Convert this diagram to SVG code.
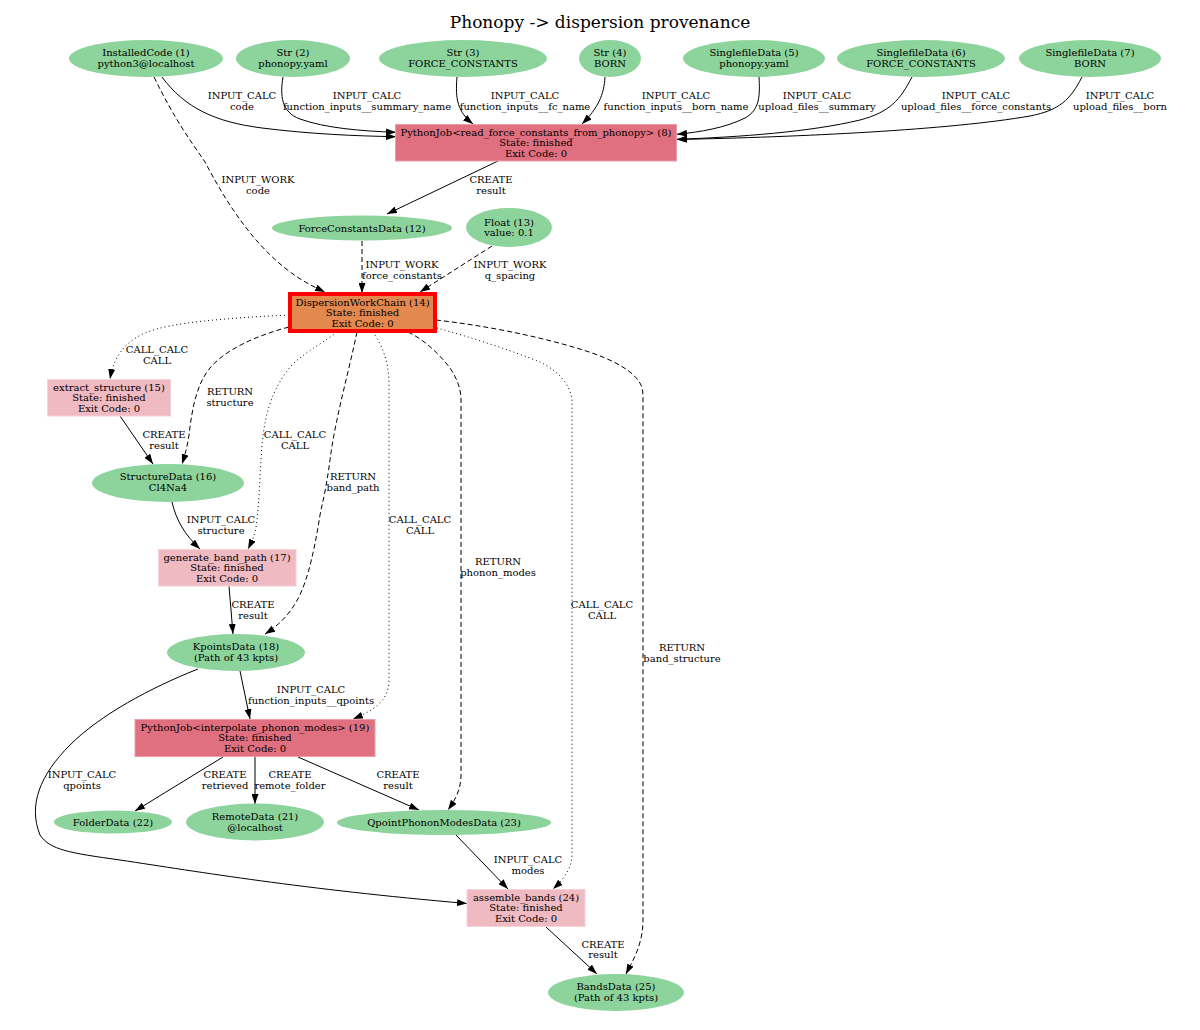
<svg xmlns="http://www.w3.org/2000/svg" width="1200" height="1030" viewBox="0 0 1200 1030">
<style>
text { font-family: "DejaVu Serif", "Liberation Serif", serif; font-size: 10px; fill: #000; text-anchor: middle; }
.title { font-size: 17px; }
.data { fill: #8cd49b; }
.calc { fill: #f0bac2; stroke: #f6d3d8; stroke-width: 1; }
.pyjob { fill: #e0707f; stroke: #ec9ea8; stroke-width: 1; }
.wc { fill: #e3884f; stroke: #ff0000; stroke-width: 4; }
.e { fill: none; stroke: #000; stroke-width: 1; marker-end: url(#arr); }
.dash { stroke-dasharray: 5,3; }
.dot { stroke-dasharray: 1,3; }
</style>
<defs>
<marker id="arr" markerUnits="userSpaceOnUse" markerWidth="10" markerHeight="7" refX="10" refY="3.5" orient="auto">
<path d="M0,0 L10,3.5 L0,7 z" fill="#000"/>
</marker>
</defs>
<rect width="1200" height="1030" fill="#fff"/>
<text class="title" x="600" y="28">Phonopy -&gt; dispersion provenance</text>

<g id="connectors">
<path class="e" d="M162,77 C185,108 215,122 262,128 C310,134 355,136 396,136.7"/>
<path class="e" d="M283,77 C280,95 281,112 300,119 C325,128 360,131 396,132.3"/>
<path class="e" d="M457,77 C455,100 458,112 473,124"/>
<path class="e" d="M605,77 C604,95 598,108 582,124"/>
<path class="e" d="M759,77 C760,95 760,110 745,118 C725,128 700,132 677,134.3"/>
<path class="e" d="M912,77 C900,100 890,112 860,120 C810,132 740,137 677,139.3"/>
<path class="e" d="M1082,77 C1070,100 1060,110 1030,116 C950,130 800,137 677,139.5"/>
<path class="e dash" d="M154,77 C175,120 190,140 205,162 C225,200 250,240 285,268 C300,280 312,286 325,292"/>
<path class="e" d="M498,161 L387,214"/>
<path class="e dash" d="M362,241 L362,293"/>
<path class="e dash" d="M492,246 L420,292"/>
<path class="e dot" d="M289,315 C230,318 170,322 145,333 C125,342 114,356 110,379"/>
<path class="e dash" d="M289,327 C255,336 225,350 210,368 C196,385 192,410 189,435 C187,448 185,455 182,464"/>
<path class="e" d="M120,416 L153,464"/>
<path class="e dot" d="M337,332 C320,345 305,352 292,365 C270,390 263,420 261,460 C259,495 258,520 255,532 C253,540 250,545 248,549"/>
<path class="e" d="M172,502 C176,520 185,535 200,549"/>
<path class="e dash" d="M357,332 C348,375 335,420 330,460 C326,490 323,500 320,515 C313,560 305,590 293,607 C285,619 276,627 265,634"/>
<path class="e" d="M229,586 L233,634"/>
<path class="e dot" d="M373,332 C382,345 388,360 389,380 L389,680 C389,700 375,710 353,719"/>
<path class="e" d="M240,671 L250,719"/>
<path class="e dash" d="M408,332 C425,340 440,355 450,368 C458,380 461,390 461,400 L461,775 C461,790 455,800 448,810"/>
<path class="e dot" d="M437,328 C470,337 510,350 540,362 C560,372 570,385 572,400 L572,855 C572,868 563,880 553,889"/>
<path class="e dash" d="M436,320 C480,325 535,335 583,350 C615,360 635,372 641,385 C643,390 643,395 643,400 L643,920 C643,945 632,962 626,974"/>
<path class="e" d="M198,669 C150,688 100,715 70,745 C40,775 28,805 40,835 C50,850 70,853 120,860 C200,872 300,889 467,903.5"/>
<path class="e" d="M223,757 L135,811"/>
<path class="e" d="M255,757 L255,804"/>
<path class="e" d="M298,757 L419,810"/>
<path class="e" d="M456,835 L508,889"/>
<path class="e" d="M546,927 L597,974"/>

<text x="242" y="98.5">INPUT_CALC</text><text x="242" y="109.5">code</text>
<text x="367" y="98.5">INPUT_CALC</text><text x="367" y="109.5">function_inputs__summary_name</text>
<text x="525" y="98.5">INPUT_CALC</text><text x="525" y="109.5">function_inputs__fc_name</text>
<text x="676" y="98.5">INPUT_CALC</text><text x="676" y="109.5">function_inputs__born_name</text>
<text x="817" y="98.5">INPUT_CALC</text><text x="817" y="109.5">upload_files__summary</text>
<text x="976" y="98.5">INPUT_CALC</text><text x="976" y="109.5">upload_files__force_constants</text>
<text x="1120" y="98.5">INPUT_CALC</text><text x="1120" y="109.5">upload_files__born</text>
<text x="258" y="182.5">INPUT_WORK</text><text x="258" y="193.5">code</text>
<text x="491" y="182.5">CREATE</text><text x="491" y="193.5">result</text>
<text x="402" y="267.5">INPUT_WORK</text><text x="402" y="278.5">force_constants</text>
<text x="510" y="267.5">INPUT_WORK</text><text x="510" y="278.5">q_spacing</text>
<text x="157" y="352.5">CALL_CALC</text><text x="157" y="363.5">CALL</text>
<text x="230" y="394.5">RETURN</text><text x="230" y="405.5">structure</text>
<text x="164" y="437.5">CREATE</text><text x="164" y="448.5">result</text>
<text x="295" y="437.5">CALL_CALC</text><text x="295" y="448.5">CALL</text>
<text x="353" y="479.5">RETURN</text><text x="353" y="490.5">band_path</text>
<text x="221" y="522.5">INPUT_CALC</text><text x="221" y="533.5">structure</text>
<text x="420" y="522.5">CALL_CALC</text><text x="420" y="533.5">CALL</text>
<text x="498" y="565">RETURN</text><text x="498" y="576">phonon_modes</text>
<text x="253" y="607.5">CREATE</text><text x="253" y="618.5">result</text>
<text x="602" y="607.5">CALL_CALC</text><text x="602" y="618.5">CALL</text>
<text x="682" y="650.5">RETURN</text><text x="682" y="661.5">band_structure</text>
<text x="311" y="692.5">INPUT_CALC</text><text x="311" y="703.5">function_inputs__qpoints</text>
<text x="82" y="777.5">INPUT_CALC</text><text x="82" y="788.5">qpoints</text>
<text x="225" y="777.5">CREATE</text><text x="225" y="788.5">retrieved</text>
<text x="290" y="777.5">CREATE</text><text x="290" y="788.5">remote_folder</text>
<text x="398" y="777.5">CREATE</text><text x="398" y="788.5">result</text>
<text x="528" y="862.5">INPUT_CALC</text><text x="528" y="873.5">modes</text>
<text x="603" y="947.5">CREATE</text><text x="603" y="958">result</text>
</g>

<g id="n1"><ellipse class="data" cx="146" cy="58.5" rx="77" ry="18.5"/><text x="146" y="56">InstalledCode (1)</text><text x="146" y="66.5">python3@localhost</text></g>
<g id="n2"><ellipse class="data" cx="293" cy="58.5" rx="57" ry="18.5"/><text x="293" y="56">Str (2)</text><text x="293" y="66.5">phonopy.yaml</text></g>
<g id="n3"><ellipse class="data" cx="463" cy="58.5" rx="84" ry="18.5"/><text x="463" y="56">Str (3)</text><text x="463" y="66.5">FORCE_CONSTANTS</text></g>
<g id="n4"><ellipse class="data" cx="610" cy="58.5" rx="31" ry="18.5"/><text x="610" y="56">Str (4)</text><text x="610" y="66.5">BORN</text></g>
<g id="n5"><ellipse class="data" cx="754" cy="58.5" rx="71" ry="18.5"/><text x="754" y="56">SinglefileData (5)</text><text x="754" y="66.5">phonopy.yaml</text></g>
<g id="n6"><ellipse class="data" cx="921" cy="58.5" rx="84" ry="18.5"/><text x="921" y="56">SinglefileData (6)</text><text x="921" y="66.5">FORCE_CONSTANTS</text></g>
<g id="n7"><ellipse class="data" cx="1090" cy="58.5" rx="71" ry="18.5"/><text x="1090" y="56">SinglefileData (7)</text><text x="1090" y="66.5">BORN</text></g>
<g id="n8"><rect class="pyjob" x="395.5" y="124.5" width="281" height="36.5"/><text x="536" y="135.5">PythonJob&lt;read_force_constants_from_phonopy&gt; (8)</text><text x="536" y="146">State: finished</text><text x="536" y="156.5">Exit Code: 0</text></g>
<g id="n12"><ellipse class="data" cx="362" cy="228" rx="90" ry="12.5"/><text x="362" y="231.5">ForceConstantsData (12)</text></g>
<g id="n13"><ellipse class="data" cx="509" cy="227.5" rx="43" ry="19.5"/><text x="509" y="225.5">Float (13)</text><text x="509" y="235.5">value: 0.1</text></g>
<g id="n14"><rect class="wc" x="290" y="294" width="145" height="37"/><text x="362.5" y="305.5">DispersionWorkChain (14)</text><text x="362.5" y="316">State: finished</text><text x="362.5" y="326.5">Exit Code: 0</text></g>
<g id="n15"><rect class="calc" x="47.5" y="379.5" width="123" height="36.5"/><text x="109" y="390.5">extract_structure (15)</text><text x="109" y="401">State: finished</text><text x="109" y="411.5">Exit Code: 0</text></g>
<g id="n16"><ellipse class="data" cx="168" cy="483" rx="76" ry="19"/><text x="168" y="480">StructureData (16)</text><text x="168" y="491">Cl4Na4</text></g>
<g id="n17"><rect class="calc" x="158.5" y="549.5" width="137.5" height="36.5"/><text x="227" y="560.5">generate_band_path (17)</text><text x="227" y="571">State: finished</text><text x="227" y="581.5">Exit Code: 0</text></g>
<g id="n18"><ellipse class="data" cx="236" cy="652.5" rx="69" ry="18.5"/><text x="236" y="649.5">KpointsData (18)</text><text x="236" y="660.5">(Path of 43 kpts)</text></g>
<g id="n19"><rect class="pyjob" x="135" y="719.5" width="240" height="37"/><text x="255" y="730.5">PythonJob&lt;interpolate_phonon_modes&gt; (19)</text><text x="255" y="741">State: finished</text><text x="255" y="751.5">Exit Code: 0</text></g>
<g id="n22"><ellipse class="data" cx="113" cy="822" rx="59" ry="11.5"/><text x="113" y="825.5">FolderData (22)</text></g>
<g id="n21"><ellipse class="data" cx="255" cy="822" rx="69" ry="18.5"/><text x="255" y="819.5">RemoteData (21)</text><text x="255" y="830.5">@localhost</text></g>
<g id="n23"><ellipse class="data" cx="444" cy="822.5" rx="107" ry="12.5"/><text x="444" y="826">QpointPhononModesData (23)</text></g>
<g id="n24"><rect class="calc" x="467" y="889.5" width="118" height="37"/><text x="526" y="900.5">assemble_bands (24)</text><text x="526" y="911">State: finished</text><text x="526" y="921.5">Exit Code: 0</text></g>
<g id="n25"><ellipse class="data" cx="616" cy="992.5" rx="68" ry="18.5"/><text x="616" y="990">BandsData (25)</text><text x="616" y="1001">(Path of 43 kpts)</text></g>
</svg>
